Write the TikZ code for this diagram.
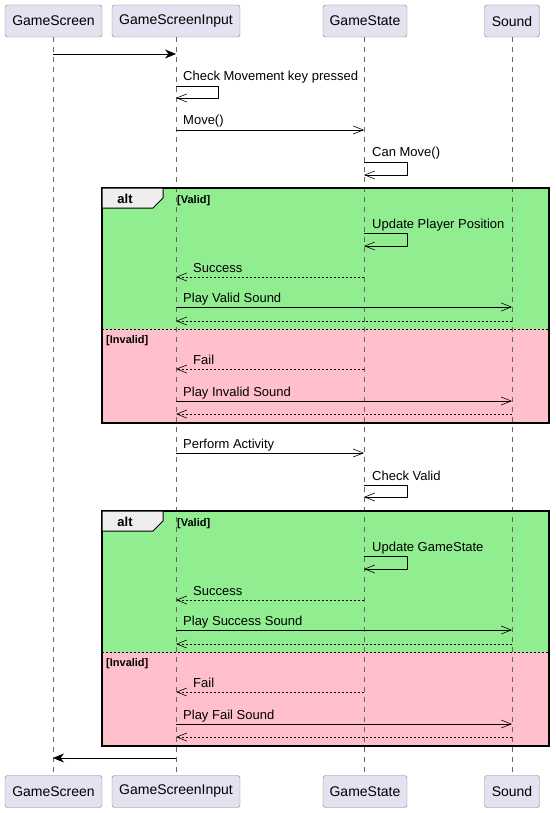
\documentclass[tikz,border=0pt]{standalone}
\usepackage{fontspec}
\setmainfont{Liberation Sans}
\usetikzlibrary{arrows.meta}

\definecolor{partfill}{HTML}{E2E2F0}
\definecolor{validgreen}{HTML}{90EE90}
\definecolor{invalidpink}{HTML}{FFC0CB}
\definecolor{tabfill}{HTML}{EEEEEE}

\begin{document}
\begin{tikzpicture}[
    x=1pt, y=-1pt,
    participant/.style={
        draw=black!50,
        fill=partfill,
        rounded corners=2.5pt,
        minimum height=32pt,
        inner sep=0pt,
        font=\fontsize{14}{16}\selectfont
    },
    lifeline/.style={draw=black!60, line width=0.5pt, dash pattern=on 5pt off 5pt},
    msg/.style={line width=0.6pt, -{Straight Barb[length=10pt,width=8pt]}},
    reply/.style={msg, dash pattern=on 2pt off 2pt},
    call/.style={line width=0.8pt, -{Stealth[length=11pt,width=9pt,inset=3.5pt]}},
    lbl/.style={anchor=base west, inner sep=0pt, font=\fontsize{13}{15}\selectfont},
    guard/.style={anchor=base west, inner sep=0pt, font=\bfseries\fontsize{11}{13}\selectfont},
    frame/.style={draw=black, line width=1.4pt},
    tab/.style={draw=black, line width=1pt, fill=tabfill}
    ]
    \useasboundingbox (0,0) rectangle (555,813);

    % participants
    \node[participant, minimum width=97pt] (scrTop) at (53.5,21) {GameScreen};
    \node[participant, minimum width=128pt] (inpTop) at (176,21) {GameScreenInput};
    \node[participant, minimum width=84pt] (stTop) at (365,21) {GameState};
    \node[participant, minimum width=55pt] (sndTop) at (512,21) {Sound};
    \node[participant, minimum width=97pt] (scrBot) at (53.5,791.5) {GameScreen};
    \node[participant, minimum width=128pt] (inpBot) at (176,791.5) {GameScreenInput};
    \node[participant, minimum width=84pt] (stBot) at (365,791.5) {GameState};
    \node[participant, minimum width=55pt] (sndBot) at (512,791.5) {Sound};

    % alt blocks
    \fill[validgreen] (102,188) rectangle (549,329);
    \fill[invalidpink] (102,329) rectangle (549,423);
    \fill[validgreen] (102,511) rectangle (549,652);
    \fill[invalidpink] (102,652) rectangle (549,746);

    \draw[lifeline] (scrTop) -- (scrBot);
    \draw[lifeline] (inpTop) -- (inpBot);
    \draw[lifeline] ([xshift=-1pt]stTop.south) -- ([xshift=-1pt]stBot.north);
    \draw[lifeline] (sndTop) -- (sndBot);

    \draw[frame] (102,188) rectangle (549,423);
    \draw[black, line width=0.6pt, dash pattern=on 2pt off 2pt] (102,329) -- (549,329);
    \draw[tab] (102,188) -- (163,188) -- (163,198) -- (153,208) -- (102,208) -- cycle;
    \node[font=\bfseries\fontsize{13}{15}\selectfont] (alt1) at (125,199) {alt};
    \node[guard] (valid1) at (177,203) {[Valid]};
    \node[guard] (invalid1) at (106,343) {[Invalid]};

    \draw[frame] (102,511) rectangle (549,746);
    \draw[black, line width=0.6pt, dash pattern=on 2pt off 2pt] (102,652) -- (549,652);
    \draw[tab] (102,511) -- (163,511) -- (163,521) -- (153,531) -- (102,531) -- cycle;
    \node[font=\bfseries\fontsize{13}{15}\selectfont] (alt2) at (125,522) {alt};
    \node[guard] (valid2) at (177,526) {[Valid]};
    \node[guard] (invalid2) at (106,666) {[Invalid]};

    % message rows on every lifeline
    \foreach \r/\y in {1/54,2/86,3/98,4/130,5/162,6/175,7/233,8/246,9/277,10/307,
                       11/321,12/369,13/401,14/414,15/453,16/485,17/497,18/556,
                       19/569,20/600,21/630,22/644,23/692,24/724,25/737,26/758} {
        \coordinate (scr\r) at (53,\y);
        \coordinate (inp\r) at (176,\y);
        \coordinate (st\r) at (364,\y);
        \coordinate (snd\r) at (512,\y);
    }

    \draw[call] (scr1) -- (inp1);

    \node[lbl] (lCheckKey) at ([xshift=7pt,yshift=5pt]inp2) {Check Movement key pressed};
    \draw[msg] (inp2) -- ++(42,0) |- (inp3);

    \node[lbl] (lMove) at ([xshift=7pt,yshift=5pt]inp4) {Move()};
    \draw[msg] (inp4) -- (st4);

    \node[lbl] (lCanMove) at ([xshift=8pt,yshift=5pt]st5) {Can Move()};
    \draw[msg] (st5) -- ++(43,0) |- (st6);

    \node[lbl] (lUpdPos) at ([xshift=8pt,yshift=5pt]st7) {Update Player Position};
    \draw[msg] (st7) -- ++(43,0) |- (st8);

    \node[lbl] (lSuccess1) at ([xshift=17pt,yshift=5pt]inp9) {Success};
    \draw[reply] (st9) -- (inp9);

    \node[lbl] (lValidSnd) at ([xshift=7pt,yshift=5pt]inp10) {Play Valid Sound};
    \draw[msg] (inp10) -- (snd10);
    \draw[reply] (snd11) -- (inp11);

    \node[lbl] (lFail1) at ([xshift=17pt,yshift=5pt]inp12) {Fail};
    \draw[reply] (st12) -- (inp12);

    \node[lbl] (lInvalidSnd) at ([xshift=7pt,yshift=5pt]inp13) {Play Invalid Sound};
    \draw[msg] (inp13) -- (snd13);
    \draw[reply] (snd14) -- (inp14);

    \node[lbl] (lActivity) at ([xshift=7pt,yshift=5pt]inp15) {Perform Activity};
    \draw[msg] (inp15) -- (st15);

    \node[lbl] (lCheckValid) at ([xshift=8pt,yshift=5pt]st16) {Check Valid};
    \draw[msg] (st16) -- ++(43,0) |- (st17);

    \node[lbl] (lUpdState) at ([xshift=8pt,yshift=5pt]st18) {Update GameState};
    \draw[msg] (st18) -- ++(43,0) |- (st19);

    \node[lbl] (lSuccess2) at ([xshift=17pt,yshift=5pt]inp20) {Success};
    \draw[reply] (st20) -- (inp20);

    \node[lbl] (lSuccessSnd) at ([xshift=7pt,yshift=5pt]inp21) {Play Success Sound};
    \draw[msg] (inp21) -- (snd21);
    \draw[reply] (snd22) -- (inp22);

    \node[lbl] (lFail2) at ([xshift=17pt,yshift=5pt]inp23) {Fail};
    \draw[reply] (st23) -- (inp23);

    \node[lbl] (lFailSnd) at ([xshift=7pt,yshift=5pt]inp24) {Play Fail Sound};
    \draw[msg] (inp24) -- (snd24);
    \draw[reply] (snd25) -- (inp25);

    \draw[call] (inp26) -- (scr26);
\end{tikzpicture}
\end{document}
